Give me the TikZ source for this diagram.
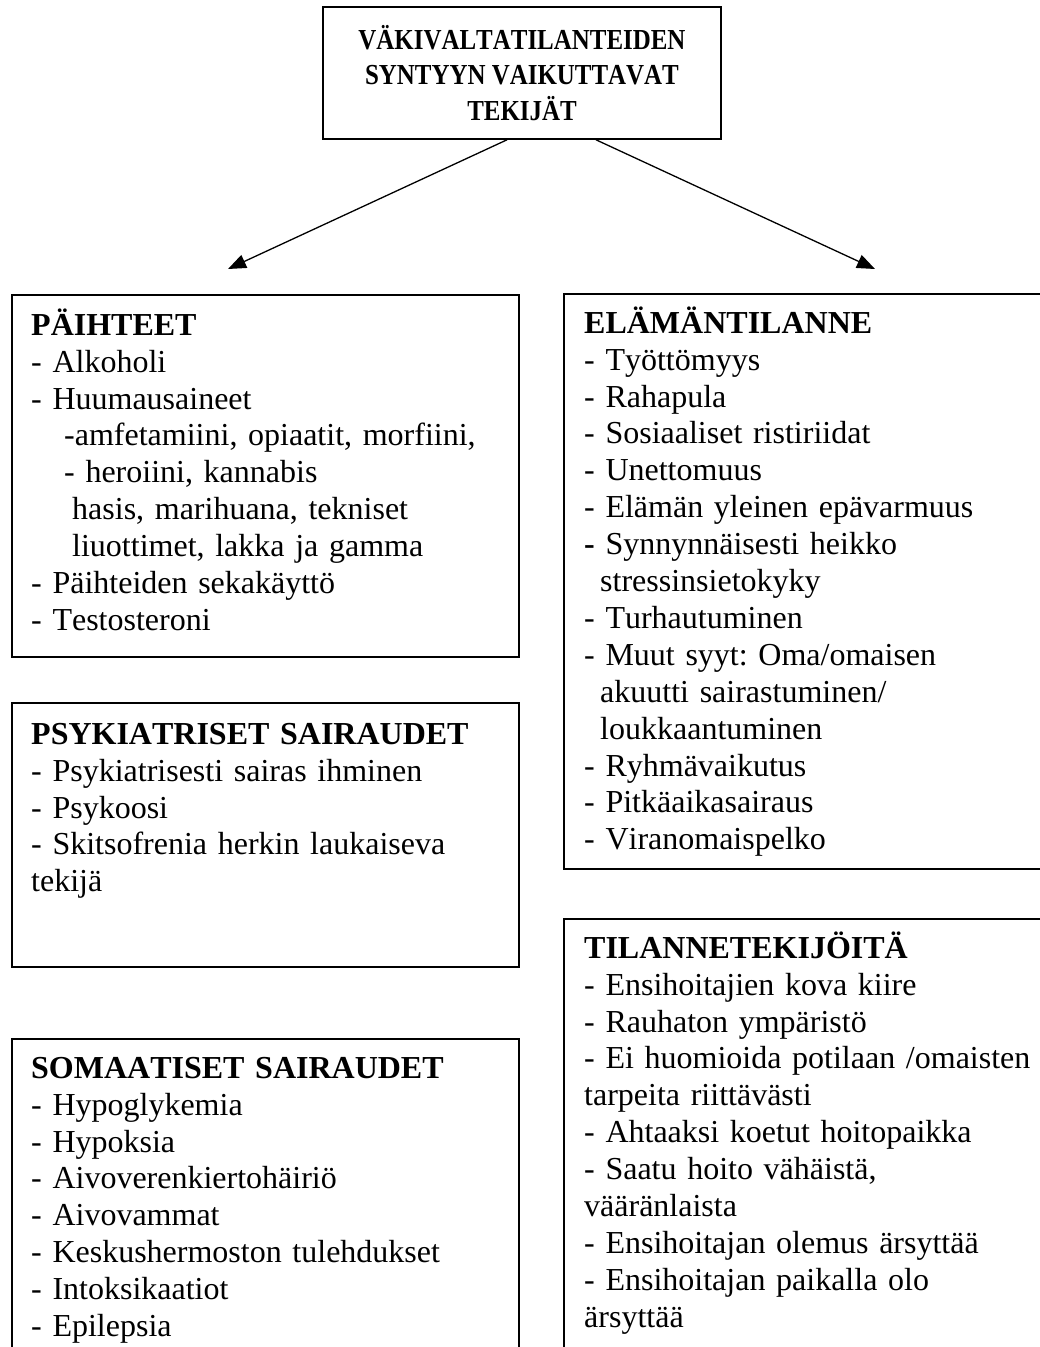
\documentclass[tikz,border=0pt]{standalone}
\usepackage{fontspec}
\usepackage{graphicx}
\setmainfont{Liberation Serif}[Kerning=Off]
\usetikzlibrary{arrows.meta}
\frenchspacing
\newcommand{\ttlline}[1]{\scalebox{0.86}[1]{#1}}
\begin{document}
\begin{tikzpicture}[x=1pt,y=-1pt,
  frame/.style={draw,line width=1.6pt,inner sep=0pt,anchor=north west},
  body/.style={anchor=north west,inner sep=0pt,align=left,text width=490pt,font=\frenchspacing\fontsize{32}{36.9}\selectfont},
  arr/.style={line width=1.3pt,-{Triangle[length=18pt,width=14pt]}}]
\useasboundingbox (0,0) rectangle (1040,1347);
\clip (0,0) rectangle (1040,1347);

% top box
\node[draw,line width=1.6pt,minimum width=398pt,minimum height=132pt,inner sep=0pt,align=center,
  font=\bfseries\fontsize{29}{35.5}\selectfont] (top) at (522,73)
  {\ttlline{VÄKIVALTATILANTEIDEN}\\\ttlline{SYNTYYN VAIKUTTAVAT}\\\ttlline{TEKIJÄT}};

% frames
\node[frame,minimum width=507pt,minimum height=362pt] (b1) at (11,294) {};
\node[frame,minimum width=507pt,minimum height=264pt] (b2) at (11,702) {};
\node[frame,minimum width=507pt,minimum height=322pt] (b3) at (11,1038) {};
\node[frame,minimum width=497pt,minimum height=575pt] (r1) at (563,293) {};
\node[frame,minimum width=497pt,minimum height=442pt] (r2) at (563,918) {};

% texts
\node[body] (b1t) at (31,305) {\rule{0pt}{30pt}\textbf{PÄIHTEET}\\
- Alkoholi\\
- Huumausaineet\\
\hspace*{33pt}-amfetamiini, opiaatit, morfiini,\\
\hspace*{33pt}- heroiini, kannabis\\
\hspace*{41pt}hasis, marihuana, tekniset\\
\hspace*{41pt}liuottimet, lakka ja gamma\\
- Päihteiden sekakäyttö\\
- Testosteroni};

\node[body] (b2t) at (31,714) {\rule{0pt}{30pt}\textbf{PSYKIATRISET SAIRAUDET}\\
- Psykiatrisesti sairas ihminen\\
- Psykoosi\\
- Skitsofrenia herkin laukaiseva\\
tekijä};

\node[body] (b3t) at (31,1048) {\rule{0pt}{30pt}\textbf{SOMAATISET SAIRAUDET}\\
- Hypoglykemia\\
- Hypoksia\\
- Aivoverenkiertohäiriö\\
- Aivovammat\\
- Keskushermoston tulehdukset\\
- Intoksikaatiot\\
- Epilepsia};

\node[body] (r1t) at (584,303) {\rule{0pt}{30pt}\textbf{ELÄMÄNTILANNE}\\
- Työttömyys\\
- Rahapula\\
- Sosiaaliset ristiriidat\\
- Unettomuus\\
- Elämän yleinen epävarmuus\\
{\bfseries -} Synnynnäisesti heikko\\
\hspace*{16pt}stressinsietokyky\\
- Turhautuminen\\
- Muut syyt: Oma/omaisen\\
\hspace*{16pt}akuutti sairastuminen/\\
\hspace*{16pt}loukkaantuminen\\
- Ryhmävaikutus\\
- Pitkäaikasairaus\\
- Viranomaispelko};

\node[body] (r2t) at (584,928) {\rule{0pt}{30pt}\textbf{TILANNETEKIJÖITÄ}\\
- Ensihoitajien kova kiire\\
- Rauhaton ympäristö\\
- Ei huomioida potilaan /omaisten\\
tarpeita riittävästi\\
- Ahtaaksi koetut hoitopaikka\\
- Saatu hoito vähäistä,\\
vääränlaista\\
- Ensihoitajan olemus ärsyttää\\
- Ensihoitajan paikalla olo\\
ärsyttää};

% arrows
\coordinate (la) at (228,269);
\coordinate (ra) at (875,269);
\draw[arr] ([xshift=-15pt]top.south) -- (la);
\draw[arr] ([xshift=74pt]top.south) -- (ra);
\end{tikzpicture}
\end{document}
